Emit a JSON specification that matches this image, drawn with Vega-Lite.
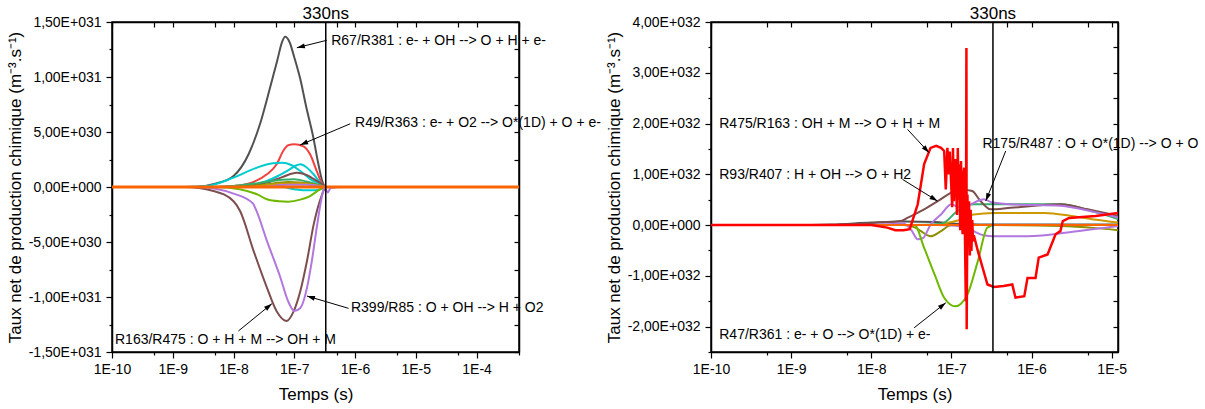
{
"$schema": "https://vega.github.io/schema/vega-lite/v6.json",
"background": "white",
"padding": {"left": 5, "top": 4, "right": 0, "bottom": 0},
"bounds": "flush",
"spacing": 192,
"config": {
  "font": "Liberation Sans",
  "view": {"stroke": "black", "strokeWidth": 1.5},
  "text": {"font": "Liberation Sans", "fontSize": 14, "color": "black"},
  "axis": {"domainColor": "black", "domainWidth": 1.5, "tickColor": "black", "tickWidth": 1.2, "labelColor": "black", "labelFontSize": 14, "labelFont": "Liberation Sans", "titleFont": "Liberation Sans", "titleFontSize": 17, "titleFontWeight": "normal", "titleColor": "black", "grid": false, "labelFlush": false, "labelOverlap": false, "labelBound": false}
},
"resolve": {"scale": {"color": "independent", "x": "independent", "y": "independent"}},
"datasets": {
  "left": [
    {"s":"g","t":1e-10,"v":0},{"s":"g","t":1e-9,"v":0},{"s":"g","t":2.512e-9,"v":3e28},{"s":"g","t":5.012e-9,"v":3e29},{"s":"g","t":1e-8,"v":1.0e30},{"s":"g","t":1.778e-8,"v":3.0e30},{"s":"g","t":2.754e-8,"v":5.8e30},{"s":"g","t":3.981e-8,"v":9e30},{"s":"g","t":5.248e-8,"v":1.15e31},{"s":"g","t":6.31e-8,"v":1.32e31},{"s":"g","t":7.079e-8,"v":1.365e31},{"s":"g","t":8.318e-8,"v":1.32e31},{"s":"g","t":1e-7,"v":1.18e31},{"s":"g","t":1.259e-7,"v":9.8e30},{"s":"g","t":1.585e-7,"v":7.2e30},{"s":"g","t":2.042e-7,"v":4.6e30},{"s":"g","t":2.512e-7,"v":2.0e30},{"s":"g","t":2.884e-7,"v":5.5e29},{"s":"g","t":3.311e-7,"v":0},{"s":"g","t":1e-6,"v":0},{"s":"g","t":5e-4,"v":0},
    {"s":"r","t":1e-10,"v":0},{"s":"r","t":3.162e-9,"v":0},{"s":"r","t":1e-8,"v":1e29},{"s":"r","t":1.995e-8,"v":4e29},{"s":"r","t":3.548e-8,"v":1.15e30},{"s":"r","t":5.129e-8,"v":2.06e30},{"s":"r","t":6.607e-8,"v":3.3e30},{"s":"r","t":7.943e-8,"v":3.8e30},{"s":"r","t":1e-7,"v":3.88e30},{"s":"r","t":1.413e-7,"v":3.7e30},{"s":"r","t":1.82e-7,"v":2.97e30},{"s":"r","t":2.344e-7,"v":1.45e30},{"s":"r","t":2.818e-7,"v":4e29},{"s":"r","t":3.311e-7,"v":0},{"s":"r","t":5e-4,"v":0},
    {"s":"c1","t":1e-10,"v":0},{"s":"c1","t":1.585e-9,"v":0},{"s":"c1","t":3.715e-9,"v":1e29},{"s":"c1","t":1e-8,"v":8.5e29},{"s":"c1","t":2.399e-8,"v":1.75e30},{"s":"c1","t":4.467e-8,"v":2.15e30},{"s":"c1","t":6.31e-8,"v":2.2e30},{"s":"c1","t":8.913e-8,"v":2.0e30},{"s":"c1","t":1.259e-7,"v":1.45e30},{"s":"c1","t":2.042e-7,"v":5.5e29},{"s":"c1","t":2.692e-7,"v":2.7e29},{"s":"c1","t":3.311e-7,"v":0},{"s":"c1","t":5e-4,"v":0},
    {"s":"c2","t":1e-10,"v":0},{"s":"c2","t":1.259e-8,"v":0},{"s":"c2","t":2.512e-8,"v":3e29},{"s":"c2","t":3.548e-8,"v":5.5e29},{"s":"c2","t":5.37e-8,"v":1.0e30},{"s":"c2","t":7.586e-8,"v":1.45e30},{"s":"c2","t":1.122e-7,"v":2.0e30},{"s":"c2","t":1.259e-7,"v":2.06e30},{"s":"c2","t":1.585e-7,"v":1.8e30},{"s":"c2","t":2.042e-7,"v":1.2e30},{"s":"c2","t":2.692e-7,"v":4e29},{"s":"c2","t":3.311e-7,"v":0},{"s":"c2","t":5e-4,"v":0},
    {"s":"c3","t":1e-10,"v":0},{"s":"c3","t":6.31e-8,"v":0},{"s":"c3","t":1e-7,"v":-2e29},{"s":"c3","t":1.413e-7,"v":-3e29},{"s":"c3","t":2.239e-7,"v":-3e29},{"s":"c3","t":3.02e-7,"v":-1e29},{"s":"c3","t":3.311e-7,"v":0},{"s":"c3","t":5e-4,"v":0},
    {"s":"b1","t":1e-10,"v":0},{"s":"b1","t":1e-8,"v":0},{"s":"b1","t":3.548e-8,"v":4e29},{"s":"b1","t":6.31e-8,"v":9e29},{"s":"b1","t":1.096e-7,"v":1.3e30},{"s":"b1","t":1.585e-7,"v":1.1e30},{"s":"b1","t":2.344e-7,"v":5.5e29},{"s":"b1","t":3.162e-7,"v":1e29},{"s":"b1","t":3.311e-7,"v":0},{"s":"b1","t":5e-4,"v":0},
    {"s":"gr","t":1e-10,"v":0},{"s":"gr","t":5.012e-9,"v":0},{"s":"gr","t":1e-8,"v":1e29},{"s":"gr","t":2.512e-8,"v":3.5e29},{"s":"gr","t":6.31e-8,"v":6.5e29},{"s":"gr","t":1e-7,"v":7e29},{"s":"gr","t":1.585e-7,"v":5e29},{"s":"gr","t":2.512e-7,"v":2e29},{"s":"gr","t":3.311e-7,"v":0},{"s":"gr","t":5e-4,"v":0},
    {"s":"ol","t":1e-10,"v":0},{"s":"ol","t":1e-8,"v":0},{"s":"ol","t":3.162e-8,"v":2e29},{"s":"ol","t":7.943e-8,"v":4.5e29},{"s":"ol","t":1.259e-7,"v":4e29},{"s":"ol","t":2.512e-7,"v":1.5e29},{"s":"ol","t":3.311e-7,"v":0},{"s":"ol","t":5e-4,"v":0},
    {"s":"go","t":1e-10,"v":0},{"s":"go","t":1.585e-8,"v":0},{"s":"go","t":6.31e-8,"v":3e29},{"s":"go","t":1.259e-7,"v":3.5e29},{"s":"go","t":2.512e-7,"v":1e29},{"s":"go","t":3.311e-7,"v":0},{"s":"go","t":5e-4,"v":0},
    {"s":"pu1","t":1e-10,"v":0},{"s":"pu1","t":2.512e-8,"v":0},{"s":"pu1","t":7.943e-8,"v":2e29},{"s":"pu1","t":1.585e-7,"v":2e29},{"s":"pu1","t":3.162e-7,"v":0},{"s":"pu1","t":3.548e-7,"v":-5e29},{"s":"pu1","t":3.981e-7,"v":-1e29},{"s":"pu1","t":6.31e-7,"v":0},{"s":"pu1","t":5e-4,"v":0},
    {"s":"lg","t":1e-10,"v":0},{"s":"lg","t":5.012e-9,"v":0},{"s":"lg","t":1.259e-8,"v":-2e29},{"s":"lg","t":2.512e-8,"v":-7e29},{"s":"lg","t":3.548e-8,"v":-1.12e30},{"s":"lg","t":5.623e-8,"v":-1.3e30},{"s":"lg","t":7.943e-8,"v":-1.33e30},{"s":"lg","t":1.259e-7,"v":-1.15e30},{"s":"lg","t":1.82e-7,"v":-8.2e29},{"s":"lg","t":2.692e-7,"v":-2e29},{"s":"lg","t":3.311e-7,"v":0},{"s":"lg","t":5e-4,"v":0},
    {"s":"br","t":1e-10,"v":0},{"s":"br","t":1.585e-9,"v":0},{"s":"br","t":4.677e-9,"v":-3.6e29},{"s":"br","t":1e-8,"v":-1.3e30},{"s":"br","t":1.288e-8,"v":-2.2e30},{"s":"br","t":2.138e-8,"v":-5.8e30},{"s":"br","t":3.548e-8,"v":-9.15e30},{"s":"br","t":5.129e-8,"v":-1.13e31},{"s":"br","t":7.413e-8,"v":-1.218e31},{"s":"br","t":9.772e-8,"v":-1.13e31},{"s":"br","t":1.259e-7,"v":-9.45e30},{"s":"br","t":1.622e-7,"v":-6.7e30},{"s":"br","t":2.089e-7,"v":-3.4e30},{"s":"br","t":2.818e-7,"v":-8e29},{"s":"br","t":3.311e-7,"v":0},{"s":"br","t":5e-4,"v":0},
    {"s":"pu","t":1e-10,"v":0},{"s":"pu","t":2.512e-9,"v":0},{"s":"pu","t":1e-8,"v":-6e29},{"s":"pu","t":2.089e-8,"v":-1.5e30},{"s":"pu","t":2.399e-8,"v":-2.2e30},{"s":"pu","t":3.548e-8,"v":-4.9e30},{"s":"pu","t":5.888e-8,"v":-8.2e30},{"s":"pu","t":7.943e-8,"v":-1.04e31},{"s":"pu","t":1e-7,"v":-1.127e31},{"s":"pu","t":1.259e-7,"v":-1.1e31},{"s":"pu","t":1.622e-7,"v":-9.15e30},{"s":"pu","t":1.95e-7,"v":-6.7e30},{"s":"pu","t":2.344e-7,"v":-3.7e30},{"s":"pu","t":2.818e-7,"v":-1e30},{"s":"pu","t":3.162e-7,"v":0},{"s":"pu","t":5e-4,"v":0},
    {"s":"or","t":1e-10,"v":0},{"s":"or","t":5e-4,"v":0}
  ],
  "right": [
    {"s":"k","t":1e-10,"v":0},{"s":"k","t":1e-9,"v":0},{"s":"k","t":3.162e-9,"v":1e30},{"s":"k","t":1e-8,"v":5e30},{"s":"k","t":2.512e-8,"v":7e30},{"s":"k","t":6.31e-8,"v":6e30},{"s":"k","t":1e-7,"v":3e30},{"s":"k","t":1.585e-7,"v":2e30},{"s":"k","t":3.162e-7,"v":1e30},{"s":"k","t":1.2e-5,"v":1e30},
    {"s":"ol","t":1e-10,"v":0},{"s":"ol","t":2.512e-8,"v":0},{"s":"ol","t":3.548e-8,"v":-5e30},{"s":"ol","t":4.169e-8,"v":-1.2e31},{"s":"ol","t":5.495e-8,"v":-2.2e31},{"s":"ol","t":7.413e-8,"v":-1.2e31},{"s":"ol","t":1e-7,"v":0},{"s":"ol","t":3.162e-7,"v":0},{"s":"ol","t":2.291e-6,"v":-2e30},{"s":"ol","t":6.31e-6,"v":-6e30},{"s":"ol","t":1.2e-5,"v":-1e31},
    {"s":"go","t":1e-10,"v":0},{"s":"go","t":5.012e-8,"v":0},{"s":"go","t":7.943e-8,"v":3e30},{"s":"go","t":1.259e-7,"v":1e31},{"s":"go","t":1.905e-7,"v":2.1e31},{"s":"go","t":3.388e-7,"v":2.4e31},{"s":"go","t":1.445e-6,"v":2.4e31},{"s":"go","t":3.162e-6,"v":1.8e31},{"s":"go","t":6.026e-6,"v":1.1e31},{"s":"go","t":1.2e-5,"v":5e30},
    {"s":"gr","t":1e-10,"v":0},{"s":"gr","t":3.162e-8,"v":0},{"s":"gr","t":7.413e-8,"v":2e30},{"s":"gr","t":1.202e-7,"v":2.8e31},{"s":"gr","t":1.905e-7,"v":4.1e31},{"s":"gr","t":3.388e-7,"v":4.1e31},{"s":"gr","t":2.291e-6,"v":4.1e31},{"s":"gr","t":6.026e-6,"v":2.6e31},{"s":"gr","t":1.2e-5,"v":1.2e31},
    {"s":"br","t":1e-10,"v":0},{"s":"br","t":3.162e-9,"v":0},{"s":"br","t":6.31e-9,"v":2e30},{"s":"br","t":1.259e-8,"v":5e30},{"s":"br","t":2.344e-8,"v":8e30},{"s":"br","t":2.818e-8,"v":1.4e31},{"s":"br","t":4.571e-8,"v":3.1e31},{"s":"br","t":6.761e-8,"v":4.7e31},{"s":"br","t":1e-7,"v":6.4e31},{"s":"br","t":1.318e-7,"v":7e31},{"s":"br","t":1.82e-7,"v":6.7e31},{"s":"br","t":2.239e-7,"v":5e31},{"s":"br","t":3.09e-7,"v":3.1e31},{"s":"br","t":5.495e-7,"v":3.4e31},{"s":"br","t":2.291e-6,"v":4.1e31},{"s":"br","t":5.012e-6,"v":3.1e31},{"s":"br","t":1.2e-5,"v":1.8e31},
    {"s":"puA","t":1e-10,"v":0},{"s":"puA","t":1e-8,"v":0},{"s":"puA","t":2.512e-8,"v":3e30},{"s":"puA","t":3.162e-8,"v":-1e31},{"s":"puA","t":3.802e-8,"v":-2.8e31},{"s":"puA","t":4.467e-8,"v":-2.5e31},{"s":"puA","t":5.495e-8,"v":1e30},{"s":"puA","t":7.413e-8,"v":2.1e31},{"s":"puA","t":1e-7,"v":4.1e31},{"s":"puA","t":1.259e-7,"v":3.5e31},{"s":"puA","t":1.585e-7,"v":3.8e31},{"s":"puA","t":2.239e-7,"v":4.9e31},{"s":"puA","t":2.57e-7,"v":5.1e31},{"s":"puA","t":3.162e-7,"v":4.5e31},{"s":"puA","t":5.495e-7,"v":4.1e31},{"s":"puA","t":2.291e-6,"v":3.8e31},{"s":"puA","t":6.026e-6,"v":2.6e31},{"s":"puA","t":1.2e-5,"v":1.5e31},
    {"s":"puB","t":1e-10,"v":0},{"s":"puB","t":6.31e-8,"v":0},{"s":"puB","t":1.259e-7,"v":-2e30},{"s":"puB","t":1.778e-7,"v":-1e31},{"s":"puB","t":2.512e-7,"v":-2e31},{"s":"puB","t":3.388e-7,"v":-2.2e31},{"s":"puB","t":8.913e-7,"v":-2.2e31},{"s":"puB","t":3.715e-6,"v":-1.2e31},{"s":"puB","t":1.2e-5,"v":-2e30},
    {"s":"lg","t":1e-10,"v":0},{"s":"lg","t":3.467e-8,"v":0},{"s":"lg","t":4.571e-8,"v":-4.5e31},{"s":"lg","t":6.166e-8,"v":-9.7e31},{"s":"lg","t":8.128e-8,"v":-1.43e32},{"s":"lg","t":1.122e-7,"v":-1.6e32},{"s":"lg","t":1.318e-7,"v":-1.55e32},{"s":"lg","t":1.585e-7,"v":-1.37e32},{"s":"lg","t":2.138e-7,"v":-7.1e31},{"s":"lg","t":2.818e-7,"v":-5e30},{"s":"lg","t":3.548e-7,"v":0},{"s":"lg","t":1.2e-5,"v":0},
    {"s":"or","t":1e-10,"v":0},{"s":"or","t":1.2e-5,"v":0},
    {"s":"red","t":1e-10,"v":0},{"s":"red","t":1e-8,"v":0},{"s":"red","t":1.585e-8,"v":-5e30},{"s":"red","t":1.995e-8,"v":-1e31},{"s":"red","t":2.512e-8,"v":-1e31},{"s":"red","t":3.02e-8,"v":-8e30},{"s":"red","t":3.802e-8,"v":4.1e31},{"s":"red","t":4.571e-8,"v":1.2e32},{"s":"red","t":5.495e-8,"v":1.52e32},{"s":"red","t":6.457e-8,"v":1.56e32},{"s":"red","t":7.413e-8,"v":1.52e32},{"s":"red","t":8.128e-8,"v":1.46e32},{"s":"red","t":8.511e-8,"v":7e31},{"s":"red","t":8.913e-8,"v":1.52e32},{"s":"red","t":9.333e-8,"v":1.0e32},{"s":"red","t":9.55e-8,"v":1.45e32},{"s":"red","t":1.023e-7,"v":3.5e31},{"s":"red","t":1.047e-7,"v":1.52e32},{"s":"red","t":1.072e-7,"v":4.7e31},{"s":"red","t":1.122e-7,"v":1.3e32},{"s":"red","t":1.175e-7,"v":2e31},{"s":"red","t":1.202e-7,"v":1.52e32},{"s":"red","t":1.23e-7,"v":5e31},{"s":"red","t":1.259e-7,"v":1.2e32},{"s":"red","t":1.288e-7,"v":-1e31},{"s":"red","t":1.318e-7,"v":1.26e32},{"s":"red","t":1.349e-7,"v":3e31},{"s":"red","t":1.38e-7,"v":-1.8e31},{"s":"red","t":1.413e-7,"v":1.0e32},{"s":"red","t":1.445e-7,"v":1.13e32},{"s":"red","t":1.479e-7,"v":-3e31},{"s":"red","t":1.514e-7,"v":-1.5e32},{"s":"red","t":1.54e-7,"v":3.49e32},{"s":"red","t":1.552e-7,"v":-2.05e32},{"s":"red","t":1.585e-7,"v":6e31},{"s":"red","t":1.622e-7,"v":-4e31},{"s":"red","t":1.66e-7,"v":4.7e31},{"s":"red","t":1.698e-7,"v":-6e31},{"s":"red","t":1.738e-7,"v":3e31},{"s":"red","t":1.778e-7,"v":-5.1e31},{"s":"red","t":1.82e-7,"v":1e31},{"s":"red","t":1.862e-7,"v":-3.2e31},{"s":"red","t":1.905e-7,"v":-2e31},{"s":"red","t":2.138e-7,"v":-5.1e31},{"s":"red","t":2.455e-7,"v":-8.4e31},{"s":"red","t":2.818e-7,"v":-1.17e32},{"s":"red","t":3.388e-7,"v":-1.22e32},{"s":"red","t":4.467e-7,"v":-1.2e32},{"s":"red","t":5.754e-7,"v":-1.17e32},{"s":"red","t":6.31e-7,"v":-1.43e32},{"s":"red","t":8.128e-7,"v":-1.4e32},{"s":"red","t":8.913e-7,"v":-1.04e32},{"s":"red","t":1.122e-6,"v":-1.04e32},{"s":"red","t":1.23e-6,"v":-6.4e31},{"s":"red","t":1.585e-6,"v":-5.8e31},{"s":"red","t":1.995e-6,"v":-1.8e31},{"s":"red","t":2.291e-6,"v":-1.2e31},{"s":"red","t":2.455e-6,"v":8e30},{"s":"red","t":2.951e-6,"v":1.4e31},{"s":"red","t":6.31e-6,"v":1.8e31},{"s":"red","t":1.2e-5,"v":2.4e31}
  ],
  "annL": [
    {"id":"a1","label":"R67/R381 : e- + OH --> O + H + e-","tx":4.055e-7,"ty":1.33e31,"t1":3.44e-7,"v1":1.334e31,"t2":1.104e-7,"v2":1.266e31},
    {"id":"a2","label":"R49/R363 : e- + O2 --> O*(1D) + O + e-","tx":1e-6,"ty":5.85e30,"t1":8.34e-7,"v1":5.75e30,"t2":1.25e-7,"v2":3.82e30},
    {"id":"a3","label":"R399/R85 : O + OH --> H + O2","tx":8.57e-7,"ty":-1.097e31,"t1":7.82e-7,"v1":-1.103e31,"t2":1.614e-7,"v2":-9.91e30},
    {"id":"a4","label":"R163/R475 : O + H + M --> OH + M","tx":1.12e-10,"ty":-1.394e31,"t1":1.205e-8,"v1":-1.309e31,"t2":4.276e-8,"v2":-1.061e31}
  ],
  "annR": [
    {"id":"b1","label":"R475/R163 : OH + M --> O + H + M","tx":1.268e-10,"ty":1.984e32,"t1":2.838e-8,"v1":1.885e32,"t2":5.272e-8,"v2":1.424e32},
    {"id":"b2","label":"R93/R407 : H + OH --> O + H2","tx":1.268e-10,"ty":9.85e31,"t1":2.455e-8,"v1":9.0e31,"t2":6.71e-8,"v2":4.73e31},
    {"id":"b3","label":"R47/R361 : e- + O --> O*(1D) + e-","tx":1.268e-10,"ty":-2.173e32,"t1":3.43e-8,"v1":-2.023e32,"t2":8.51e-8,"v2":-1.531e32},
    {"id":"b4","label":"R175/R487 : O + O*(1D) --> O + O","tx":2.443e-7,"ty":1.59e32,"t1":4.76e-7,"v1":1.458e32,"t2":2.685e-7,"v2":4.73e31}
  ],
  "markL": [{"t":3.3e-7,"v":1.5e31,"label":"330ns"}],
  "markR": [{"t":3.3e-7,"v":4e32,"label":"330ns"}]
},
"hconcat": [
  {
    "width": 407, "height": 330,
    "resolve": {"axis": {"x": "independent", "y": "independent"}},
    "layer": [
      {
        "data": {"name": "left"},
        "transform": [{"filter": "datum.s != 'or'"}],
        "mark": {"type": "line", "strokeWidth": 2, "interpolate": "monotone"},
        "encoding": {
          "x": {"field": "t", "type": "quantitative", "scale": {"type": "log", "domain": [1e-10, 5e-4], "nice": false},
            "axis": {"orient": "bottom", "title": "Temps (s)", "values": [1e-10,5e-10,1e-9,5e-9,1e-8,5e-8,1e-7,5e-7,1e-6,5e-6,1e-5,5e-5,1e-4,5e-4],
              "labelExpr": "abs(log(datum.value)/LN10 - round(log(datum.value)/LN10)) > 0.01 ? '' : '1E' + round(log(datum.value)/LN10)",
              "tickSize": {"condition": {"test": "abs(log(datum.value)/LN10 - round(log(datum.value)/LN10)) > 0.01", "value": 3}, "value": 6},
              "labelPadding": 4, "titlePadding": 10}},
          "y": {"field": "v", "type": "quantitative", "scale": {"domain": [-1.5e31, 1.5e31], "nice": false, "zero": false},
            "axis": {"orient": "left", "title": "Taux net de production chimique (m⁻³.s⁻¹)", "values": [-1.5e31,-1.25e31,-1e31,-7.5e30,-5e30,-2.5e30,0,2.5e30,5e30,7.5e30,1e31,1.25e31,1.5e31],
              "labelExpr": "abs(datum.value/5e30 - round(datum.value/5e30)) > 0.01 ? '' : datum.value == 0 ? '0,00E+000' : (datum.value < 0 ? '-' : '') + replace(format(abs(datum.value) / pow(10, floor(log(abs(datum.value))/LN10 + 1e-9)), '.2f'), '.', ',') + 'E+0' + floor(log(abs(datum.value))/LN10 + 1e-9)",
              "tickSize": {"condition": {"test": "abs(datum.value/5e30 - round(datum.value/5e30)) > 0.01", "value": 3}, "value": 6},
              "labelPadding": 5, "titlePadding": 4}},
          "color": {"field": "s", "type": "nominal", "legend": null,
            "scale": {"domain": ["g","r","c1","c2","c3","b1","gr","ol","go","pu1","lg","br","pu"],
                      "range": ["#515151","#F14040","#00CBCC","#00CBCC","#00CBCC","#7D4E4E","#37AD6B","#8E8E00","#CC9900","#B177DE","#6FB802","#7D4E4E","#B177DE"]}}
        }
      },
      {
        "data": {"name": "left"},
        "transform": [{"filter": "datum.s == 'or'"}],
        "mark": {"type": "line", "strokeWidth": 3, "color": "#FB6501"},
        "encoding": {
          "x": {"field": "t", "type": "quantitative", "scale": {"type": "log", "domain": [1e-10, 5e-4], "nice": false}, "axis": null},
          "y": {"field": "v", "type": "quantitative", "scale": {"domain": [-1.5e31, 1.5e31], "nice": false, "zero": false}, "axis": null}
        }
      },
      {
        "data": {"name": "markL"},
        "mark": {"type": "rule", "color": "black", "strokeWidth": 1.5},
        "encoding": {
          "x": {"field": "t", "type": "quantitative", "scale": {"type": "log", "domain": [1e-10, 5e-4], "nice": false},
            "axis": {"orient": "top", "title": null, "labels": false, "values": [1e-10,5e-10,1e-9,5e-9,1e-8,5e-8,1e-7,5e-7,1e-6,5e-6,1e-5,5e-5,1e-4,5e-4], "tickSize": -5}}
        }
      },
      {
        "data": {"name": "annL"},
        "mark": {"type": "rule", "color": "black", "strokeWidth": 1},
        "encoding": {
          "x": {"field": "t1", "type": "quantitative", "scale": {"type": "log", "domain": [1e-10, 5e-4], "nice": false}, "axis": null},
          "y": {"field": "v1", "type": "quantitative", "scale": {"domain": [-1.5e31, 1.5e31], "nice": false, "zero": false}, "axis": null},
          "x2": {"field": "t2"}, "y2": {"field": "v2"}
        }
      },
      {
        "data": {"name": "annL"}, "transform": [{"filter": "datum.id == 'a1'"}],
        "mark": {"type": "point", "shape": "M0,0L-1,3.2L1,3.2Z", "size": 25, "filled": true, "color": "black", "opacity": 1, "angle": 256},
        "encoding": {
          "x": {"field": "t2", "type": "quantitative", "scale": {"type": "log", "domain": [1e-10, 5e-4], "nice": false}, "axis": null},
          "y": {"field": "v2", "type": "quantitative", "scale": {"domain": [-1.5e31, 1.5e31], "nice": false, "zero": false}, "axis": null}
        }
      },
      {
        "data": {"name": "annL"}, "transform": [{"filter": "datum.id == 'a2'"}],
        "mark": {"type": "point", "shape": "M0,0L-1,3.2L1,3.2Z", "size": 25, "filled": true, "color": "black", "opacity": 1, "angle": 247},
        "encoding": {
          "x": {"field": "t2", "type": "quantitative", "scale": {"type": "log", "domain": [1e-10, 5e-4], "nice": false}, "axis": null},
          "y": {"field": "v2", "type": "quantitative", "scale": {"domain": [-1.5e31, 1.5e31], "nice": false, "zero": false}, "axis": null}
        }
      },
      {
        "data": {"name": "annL"}, "transform": [{"filter": "datum.id == 'a3'"}],
        "mark": {"type": "point", "shape": "M0,0L-1,3.2L1,3.2Z", "size": 25, "filled": true, "color": "black", "opacity": 1, "angle": 286.5},
        "encoding": {
          "x": {"field": "t2", "type": "quantitative", "scale": {"type": "log", "domain": [1e-10, 5e-4], "nice": false}, "axis": null},
          "y": {"field": "v2", "type": "quantitative", "scale": {"domain": [-1.5e31, 1.5e31], "nice": false, "zero": false}, "axis": null}
        }
      },
      {
        "data": {"name": "annL"}, "transform": [{"filter": "datum.id == 'a4'"}],
        "mark": {"type": "point", "shape": "M0,0L-1,3.2L1,3.2Z", "size": 25, "filled": true, "color": "black", "opacity": 1, "angle": 50.7},
        "encoding": {
          "x": {"field": "t2", "type": "quantitative", "scale": {"type": "log", "domain": [1e-10, 5e-4], "nice": false}, "axis": null},
          "y": {"field": "v2", "type": "quantitative", "scale": {"domain": [-1.5e31, 1.5e31], "nice": false, "zero": false}, "axis": null}
        }
      },
      {
        "data": {"name": "annL"},
        "mark": {"type": "text", "align": "left", "baseline": "middle", "fontSize": 14},
        "encoding": {
          "x": {"field": "tx", "type": "quantitative", "scale": {"type": "log", "domain": [1e-10, 5e-4], "nice": false}, "axis": null},
          "y": {"field": "ty", "type": "quantitative", "scale": {"domain": [-1.5e31, 1.5e31], "nice": false, "zero": false},
            "axis": {"orient": "right", "title": null, "labels": false, "values": [-1.5e31,-1.25e31,-1e31,-7.5e30,-5e30,-2.5e30,0,2.5e30,5e30,7.5e30,1e31,1.25e31,1.5e31], "tickSize": -5}},
          "text": {"field": "label"}
        }
      },
      {
        "data": {"name": "markL"},
        "mark": {"type": "text", "align": "center", "baseline": "alphabetic", "fontSize": 17, "dy": -3},
        "encoding": {
          "x": {"field": "t", "type": "quantitative", "scale": {"type": "log", "domain": [1e-10, 5e-4], "nice": false}, "axis": null},
          "y": {"field": "v", "type": "quantitative", "scale": {"domain": [-1.5e31, 1.5e31], "nice": false, "zero": false}, "axis": null},
          "text": {"field": "label"}
        }
      }
    ]
  },
  {
    "width": 407, "height": 330,
    "resolve": {"axis": {"x": "independent", "y": "independent"}},
    "layer": [
      {
        "data": {"name": "right"},
        "transform": [{"filter": "datum.s != 'red'"}],
        "mark": {"type": "line", "strokeWidth": 2, "interpolate": "monotone"},
        "encoding": {
          "x": {"field": "t", "type": "quantitative", "scale": {"type": "log", "domain": [1e-10, 1.2e-5], "nice": false},
            "axis": {"orient": "bottom", "title": "Temps (s)", "values": [1e-10,5e-10,1e-9,5e-9,1e-8,5e-8,1e-7,5e-7,1e-6,5e-6,1e-5],
              "labelExpr": "abs(log(datum.value)/LN10 - round(log(datum.value)/LN10)) > 0.01 ? '' : '1E' + round(log(datum.value)/LN10)",
              "tickSize": {"condition": {"test": "abs(log(datum.value)/LN10 - round(log(datum.value)/LN10)) > 0.01", "value": 3}, "value": 6},
              "labelPadding": 4, "titlePadding": 10}},
          "y": {"field": "v", "type": "quantitative", "scale": {"domain": [-2.5e32, 4e32], "nice": false, "zero": false},
            "axis": {"orient": "left", "title": "Taux net de production chimique (m⁻³.s⁻¹)", "values": [-2.5e32,-2e32,-1.5e32,-1e32,-5e31,0,5e31,1e32,1.5e32,2e32,2.5e32,3e32,3.5e32,4e32],
              "labelExpr": "abs(datum.value/1e32 - round(datum.value/1e32)) > 0.01 ? '' : datum.value == 0 ? '0,00E+000' : (datum.value < 0 ? '-' : '') + replace(format(abs(datum.value) / pow(10, floor(log(abs(datum.value))/LN10 + 1e-9)), '.2f'), '.', ',') + 'E+0' + floor(log(abs(datum.value))/LN10 + 1e-9)",
              "tickSize": {"condition": {"test": "abs(datum.value/1e32 - round(datum.value/1e32)) > 0.01", "value": 3}, "value": 6},
              "labelPadding": 5, "titlePadding": 4}},
          "color": {"field": "s", "type": "nominal", "legend": null,
            "scale": {"domain": ["k","ol","go","gr","br","puA","puB","lg","or"],
                      "range": ["#515151","#8E8E00","#CC9900","#37AD6B","#7D4E4E","#B177DE","#B177DE","#6FB802","#FB6501"]}}
        }
      },
      {
        "data": {"name": "right"},
        "transform": [{"filter": "datum.s == 'red'"}],
        "mark": {"type": "line", "strokeWidth": 2.5, "color": "#FF0000"},
        "encoding": {
          "x": {"field": "t", "type": "quantitative", "scale": {"type": "log", "domain": [1e-10, 1.2e-5], "nice": false}, "axis": null},
          "y": {"field": "v", "type": "quantitative", "scale": {"domain": [-2.5e32, 4e32], "nice": false, "zero": false}, "axis": null}
        }
      },
      {
        "data": {"name": "markR"},
        "mark": {"type": "rule", "color": "black", "strokeWidth": 1.5},
        "encoding": {
          "x": {"field": "t", "type": "quantitative", "scale": {"type": "log", "domain": [1e-10, 1.2e-5], "nice": false},
            "axis": {"orient": "top", "title": null, "labels": false, "values": [1e-10,5e-10,1e-9,5e-9,1e-8,5e-8,1e-7,5e-7,1e-6,5e-6,1e-5], "tickSize": -5}}
        }
      },
      {
        "data": {"name": "annR"},
        "mark": {"type": "rule", "color": "black", "strokeWidth": 1},
        "encoding": {
          "x": {"field": "t1", "type": "quantitative", "scale": {"type": "log", "domain": [1e-10, 1.2e-5], "nice": false}, "axis": null},
          "y": {"field": "v1", "type": "quantitative", "scale": {"domain": [-2.5e32, 4e32], "nice": false, "zero": false}, "axis": null},
          "x2": {"field": "t2"}, "y2": {"field": "v2"}
        }
      },
      {
        "data": {"name": "annR"}, "transform": [{"filter": "datum.id == 'b1'"}],
        "mark": {"type": "point", "shape": "M0,0L-1,3.2L1,3.2Z", "size": 25, "filled": true, "color": "black", "opacity": 1, "angle": 137.3},
        "encoding": {
          "x": {"field": "t2", "type": "quantitative", "scale": {"type": "log", "domain": [1e-10, 1.2e-5], "nice": false}, "axis": null},
          "y": {"field": "v2", "type": "quantitative", "scale": {"domain": [-2.5e32, 4e32], "nice": false, "zero": false}, "axis": null}
        }
      },
      {
        "data": {"name": "annR"}, "transform": [{"filter": "datum.id == 'b2'"}],
        "mark": {"type": "point", "shape": "M0,0L-1,3.2L1,3.2Z", "size": 25, "filled": true, "color": "black", "opacity": 1, "angle": 121.8},
        "encoding": {
          "x": {"field": "t2", "type": "quantitative", "scale": {"type": "log", "domain": [1e-10, 1.2e-5], "nice": false}, "axis": null},
          "y": {"field": "v2", "type": "quantitative", "scale": {"domain": [-2.5e32, 4e32], "nice": false, "zero": false}, "axis": null}
        }
      },
      {
        "data": {"name": "annR"}, "transform": [{"filter": "datum.id == 'b3'"}],
        "mark": {"type": "point", "shape": "M0,0L-1,3.2L1,3.2Z", "size": 25, "filled": true, "color": "black", "opacity": 1, "angle": 51.7},
        "encoding": {
          "x": {"field": "t2", "type": "quantitative", "scale": {"type": "log", "domain": [1e-10, 1.2e-5], "nice": false}, "axis": null},
          "y": {"field": "v2", "type": "quantitative", "scale": {"domain": [-2.5e32, 4e32], "nice": false, "zero": false}, "axis": null}
        }
      },
      {
        "data": {"name": "annR"}, "transform": [{"filter": "datum.id == 'b4'"}],
        "mark": {"type": "point", "shape": "M0,0L-1,3.2L1,3.2Z", "size": 25, "filled": true, "color": "black", "opacity": 1, "angle": 201.8},
        "encoding": {
          "x": {"field": "t2", "type": "quantitative", "scale": {"type": "log", "domain": [1e-10, 1.2e-5], "nice": false}, "axis": null},
          "y": {"field": "v2", "type": "quantitative", "scale": {"domain": [-2.5e32, 4e32], "nice": false, "zero": false}, "axis": null}
        }
      },
      {
        "data": {"name": "annR"},
        "mark": {"type": "text", "align": "left", "baseline": "middle", "fontSize": 14},
        "encoding": {
          "x": {"field": "tx", "type": "quantitative", "scale": {"type": "log", "domain": [1e-10, 1.2e-5], "nice": false}, "axis": null},
          "y": {"field": "ty", "type": "quantitative", "scale": {"domain": [-2.5e32, 4e32], "nice": false, "zero": false},
            "axis": {"orient": "right", "title": null, "labels": false, "values": [-2.5e32,-2e32,-1.5e32,-1e32,-5e31,0,5e31,1e32,1.5e32,2e32,2.5e32,3e32,3.5e32,4e32], "tickSize": -5}},
          "text": {"field": "label"}
        }
      },
      {
        "data": {"name": "markR"},
        "mark": {"type": "text", "align": "center", "baseline": "alphabetic", "fontSize": 17, "dy": -3},
        "encoding": {
          "x": {"field": "t", "type": "quantitative", "scale": {"type": "log", "domain": [1e-10, 1.2e-5], "nice": false}, "axis": null},
          "y": {"field": "v", "type": "quantitative", "scale": {"domain": [-2.5e32, 4e32], "nice": false, "zero": false}, "axis": null},
          "text": {"field": "label"}
        }
      }
    ]
  }
]
}
